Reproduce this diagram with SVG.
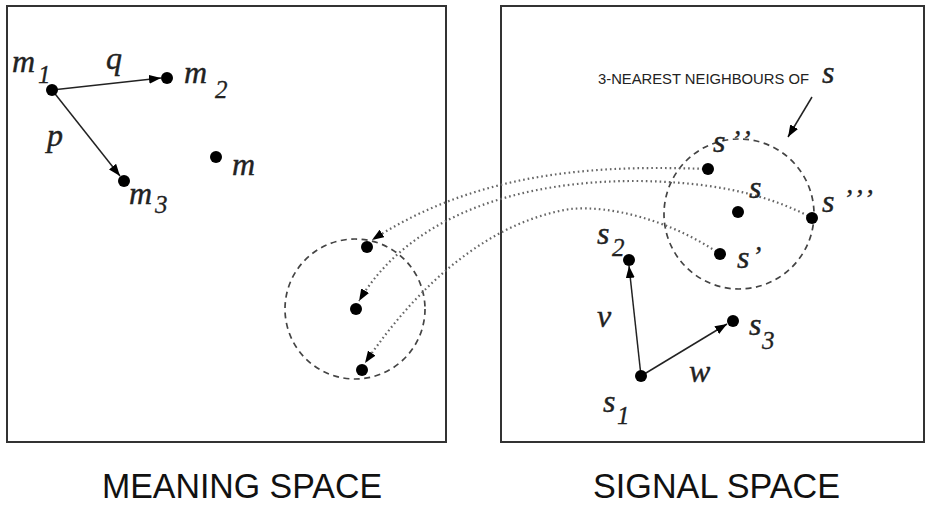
<svg xmlns="http://www.w3.org/2000/svg" width="930" height="505" viewBox="0 0 930 505">
  <style>
    .frame { fill: none; stroke: #333; stroke-width: 2; }
    .dot { fill: #000; }
    .vec { fill: none; stroke: #222; stroke-width: 1.5; }
    .hood { fill: none; stroke: #444; stroke-width: 1.7; stroke-dasharray: 6 4.5; }
    .link { fill: none; stroke: #666; stroke-width: 2.2; stroke-dasharray: 1.6 3; }
    .sym { font-family: "Liberation Serif", "DejaVu Serif", serif; font-style: italic; font-size: 32px; fill: #222; stroke: #222; stroke-width: 0.4; }
    .sub { font-family: "Liberation Serif", "DejaVu Serif", serif; font-style: italic; font-size: 25px; fill: #222; stroke: #222; stroke-width: 0.3; }
    .prime { font-family: "Liberation Serif", "DejaVu Serif", serif; font-style: italic; font-size: 28px; letter-spacing: 4px; fill: #222; stroke: #222; stroke-width: 0.3; }
    .caption { font-family: "Liberation Sans", Arial, sans-serif; font-size: 35px; fill: #111; }
    .note { font-family: "Liberation Sans", Arial, sans-serif; font-size: 15px; fill: #222; }
  </style>
  <defs>
    <marker id="head" viewBox="0 0 12 9" refX="12" refY="4.5" markerWidth="12" markerHeight="9" markerUnits="userSpaceOnUse" orient="auto">
      <path d="M0,0 L12,4.5 L0,9 z" fill="#000"/>
    </marker>
  </defs>

  <!-- the two spaces -->
  <g id="meaning-space">
    <rect class="frame" x="7" y="6" width="439" height="436"/>
    <text class="caption" x="102" y="498" textLength="280" lengthAdjust="spacingAndGlyphs">MEANING SPACE</text>
  </g>
  <g id="signal-space">
    <rect class="frame" x="501" y="6" width="423" height="436"/>
    <text class="caption" x="593" y="498" textLength="247" lengthAdjust="spacingAndGlyphs">SIGNAL SPACE</text>
  </g>

  <!-- neighbourhood circles -->
  <g id="meaning-neighbourhood">
    <circle class="hood" cx="355" cy="309" r="70"/>
  </g>
  <g id="signal-neighbourhood">
    <circle class="hood" cx="739" cy="214" r="75"/>
    <text class="note" x="598" y="84" textLength="211" lengthAdjust="spacingAndGlyphs">3-NEAREST NEIGHBOURS OF</text>
    <text class="sym" x="822" y="83">s</text>
  </g>

  <!-- connectors -->
  <g id="connectors">
    <line class="vec" x1="52" y1="90" x2="161" y2="78" marker-end="url(#head)"/>
    <line class="vec" x1="52" y1="90" x2="120" y2="176" marker-end="url(#head)"/>
    <line class="vec" x1="641" y1="376" x2="629" y2="266" marker-end="url(#head)"/>
    <line class="vec" x1="641" y1="376" x2="727" y2="324" marker-end="url(#head)"/>
    <line class="vec" x1="812" y1="97" x2="788" y2="137" marker-end="url(#head)"/>
    <path class="link" d="M708,169 C600,165 480,170 372,240" marker-end="url(#head)"/>
    <path class="link" d="M812,218 C760,190 700,182 640,181 C520,180 410,215 359,301" marker-end="url(#head)"/>
    <path class="link" d="M720,254 C670,220 610,205 570,209 C490,222 420,282 365,363" marker-end="url(#head)"/>
  </g>

  <!-- meaning points -->
  <g id="m1">
    <circle class="dot" cx="52" cy="90" r="6"/>
    <text class="sym" x="12" y="72">m</text>
    <text class="sub" x="38" y="83">1</text>
  </g>
  <g id="m2">
    <circle class="dot" cx="167" cy="78" r="6"/>
    <text class="sym" x="184" y="83">m</text>
    <text class="sub" x="215" y="98">2</text>
  </g>
  <g id="m3">
    <circle class="dot" cx="124" cy="181" r="6"/>
    <text class="sym" x="129" y="204">m</text>
    <text class="sub" x="155" y="213">3</text>
  </g>
  <g id="m">
    <circle class="dot" cx="216" cy="157" r="6"/>
    <text class="sym" x="232" y="175">m</text>
  </g>
  <g id="vector-labels-meaning">
    <text class="sym" x="106" y="69">q</text>
    <text class="sym" x="47" y="146">p</text>
  </g>
  <g id="meaning-neighbours">
    <circle class="dot" cx="367" cy="247" r="6"/>
    <circle class="dot" cx="356" cy="309" r="6"/>
    <circle class="dot" cx="362" cy="370" r="6"/>
  </g>

  <!-- signal points -->
  <g id="s1">
    <circle class="dot" cx="641" cy="376" r="6"/>
    <text class="sym" x="603" y="412">s</text>
    <text class="sub" x="617" y="424">1</text>
  </g>
  <g id="s2">
    <circle class="dot" cx="629" cy="260" r="6"/>
    <text class="sym" x="597" y="244">s</text>
    <text class="sub" x="612" y="256">2</text>
  </g>
  <g id="s3">
    <circle class="dot" cx="733" cy="321" r="6"/>
    <text class="sym" x="749" y="335">s</text>
    <text class="sub" x="762" y="349">3</text>
  </g>
  <g id="vector-labels-signal">
    <text class="sym" x="597" y="327">v</text>
    <text class="sym" x="689" y="382">w</text>
  </g>
  <g id="s">
    <circle class="dot" cx="738" cy="212" r="6"/>
    <text class="sym" x="749" y="198">s</text>
  </g>
  <g id="s-prime">
    <circle class="dot" cx="720" cy="254" r="6"/>
    <text class="sym" x="737" y="268">s</text>
    <text class="prime" x="752" y="265">’</text>
  </g>
  <g id="s-double-prime">
    <circle class="dot" cx="708" cy="169" r="6"/>
    <text class="sym" x="713" y="152">s</text>
    <text class="prime" x="731" y="149">’’</text>
  </g>
  <g id="s-triple-prime">
    <circle class="dot" cx="812" cy="218" r="6"/>
    <text class="sym" x="822" y="212">s</text>
    <text class="prime" x="843" y="208">’’’</text>
  </g>
</svg>
